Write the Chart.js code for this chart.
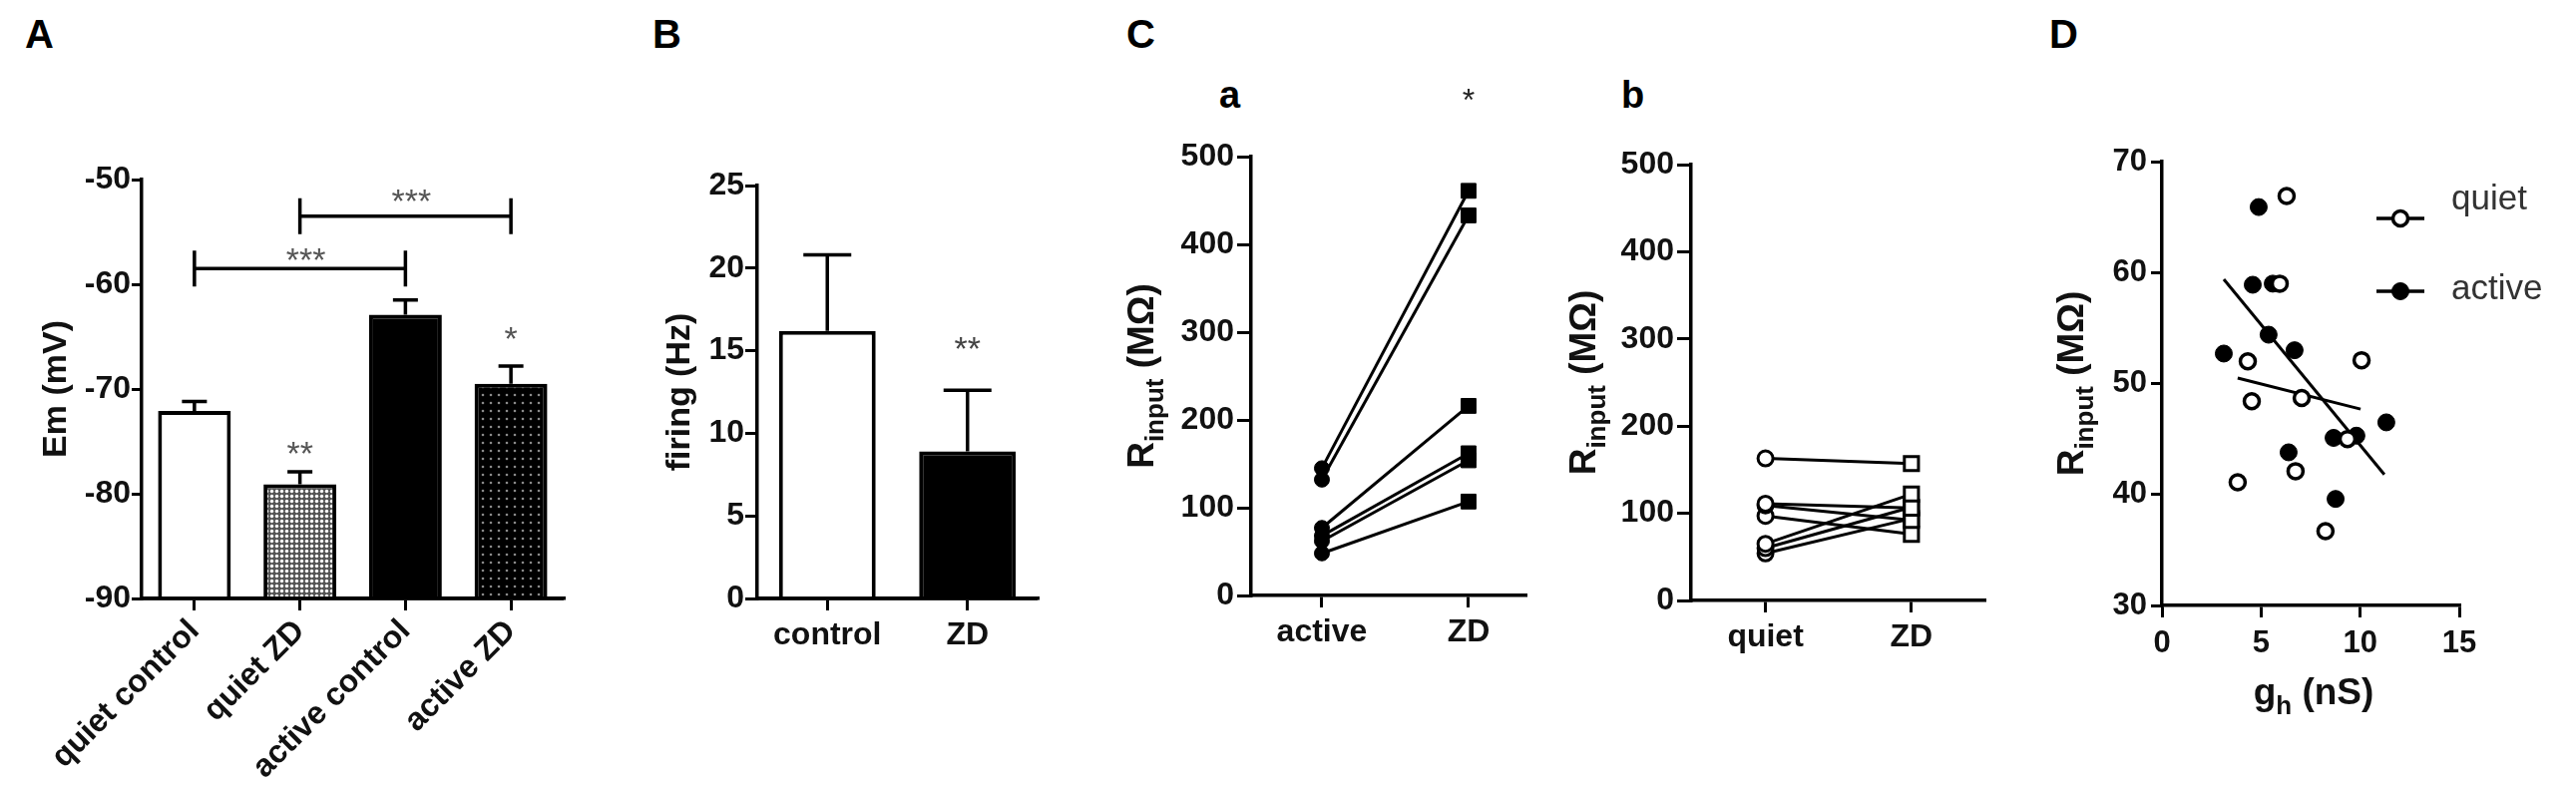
<!DOCTYPE html>
<html><head><meta charset="utf-8">
<script src="https://cdn.jsdelivr.net/npm/chart.js@4/dist/chart.umd.min.js"></script>
<style>
html,body{margin:0;padding:0;background:#fff;}
body{width:2582px;height:787px;position:relative;overflow:hidden;font-family:"Liberation Sans",Arial,sans-serif;}
.panel{position:absolute;top:0;height:787px;}
.lbl{position:absolute;font-weight:bold;color:#000;line-height:1;}
</style></head><body>
<div class="lbl" style="left:25px;top:14px;font-size:40px">A</div>
<div class="lbl" style="left:654px;top:14px;font-size:40px">B</div>
<div class="lbl" style="left:1129px;top:14px;font-size:40px">C</div>
<div class="lbl" style="left:2054px;top:14px;font-size:40px">D</div>
<div class="lbl" style="left:1222px;top:76px;font-size:38px">a</div>
<div class="lbl" style="left:1625px;top:76px;font-size:38px">b</div>
<div class="panel" style="left:0;width:600px"><canvas id="cA" width="600" height="787"></canvas></div>
<div class="panel" style="left:600px;width:480px"><canvas id="cB" width="480" height="787"></canvas></div>
<div class="panel" style="left:1080px;width:470px"><canvas id="cCa" width="470" height="787"></canvas></div>
<div class="panel" style="left:1550px;width:470px"><canvas id="cCb" width="470" height="787"></canvas></div>
<div class="panel" style="left:2020px;width:562px"><canvas id="cD" width="562" height="787"></canvas></div>
<script>
// ---------------- DATA ----------------
const categoriesA = ['quiet control', 'quiet ZD', 'active control', 'active ZD'];
const meanA = [-72.1, -79.1, -62.9, -69.5];
const semA = [0.9, 1.2, 1.4, 1.7];
const ticksA = [-90, -80, -70, -60, -50];
const titleA = 'Em (mV)';
const sigLabelsA = ['', '**', '', '*'];
const sigYA = [null, -75.4, null, -64.4];
const bracketFromA = [0, 1];
const bracketToA = [2, 3];
const bracketYA = [-58.5, -53.5];
const bracketLabelA = ['***', '***'];
const bracketLabelYA = [-56.9, -51.3];

const categoriesB = ['control', 'ZD'];
const meanB = [16.2, 8.9];
const semB = [4.6, 3.7];
const ticksB = [0, 5, 10, 15, 20, 25];
const titleB = 'firing (Hz)';
const sigLabelsB = ['', '**'];
const sigYB = [null, 15.6];

const categoriesCa = ['active', 'ZD'];
const activeCa = [145, 132, 77, 68, 62, 48];
const zdCa = [461, 433, 216, 162, 154, 107];
const sigLabelsCa = ['', '*'];
const sigYCa = [null, 573];
const categoriesCb = ['quiet', 'ZD'];
const quietCb = [163, 111, 109, 97, 65, 60, 54];
const zdCb = [157, 106, 92, 76, 122, 107, 94];
const ticksC = [0, 100, 200, 300, 400, 500];
const titleRParts = [['R', false], ['input', true], [' (M\u03A9)', false]];

const quietDX = [6.29, 5.94, 4.33, 10.07, 4.53, 7.05, 9.36, 6.74, 3.82, 8.25];
const quietDY = [66.9, 59.0, 52.0, 52.1, 48.4, 48.7, 45.0, 42.1, 41.1, 36.7];
const activeDX = [4.88, 4.58, 5.59, 5.38, 6.69, 3.12, 11.32, 8.66, 9.81, 6.39, 8.76];
const activeDY = [65.9, 58.9, 59.0, 54.4, 53.0, 52.7, 46.5, 45.1, 45.3, 43.8, 39.6];
const quietFitX = [3.82, 10.02];
const quietFitY = [50.5, 47.7];
const activeFitX = [3.12, 11.22];
const activeFitY = [59.4, 41.8];
const ticksDX = [0, 5, 10, 15];
const ticksDY = [30, 40, 50, 60, 70];
const titleDXParts = [['g', false], ['h', true], [' (nS)', false]];
const legendD = ['quiet', 'active'];

// ---------------- HELPERS ----------------
const FONT = '"Liberation Sans", Arial, sans-serif';
Chart.defaults.font.family = FONT;
Chart.defaults.color = '#111';
Chart.defaults.animation = false;
Chart.defaults.plugins.legend.display = false;
Chart.defaults.plugins.tooltip.enabled = false;

function makePattern(size, bg, dot, r) {
  const c = document.createElement('canvas');
  c.width = c.height = size;
  const g = c.getContext('2d');
  g.fillStyle = bg; g.fillRect(0, 0, size, size);
  g.fillStyle = dot; g.beginPath(); g.arc(size / 2, size / 2, r, 0, Math.PI * 2); g.fill();
  return document.getElementById('cA').getContext('2d').createPattern(c, 'repeat');
}
const patQuietZD = makePattern(5, '#555', '#fff', 1.7);
const patActiveZD = makePattern(8, '#000', '#8a8a8a', 1.3);

function yAxis(min, max, ticks, width, tickLen, pad, fs) {
  return {
    type: 'linear', position: 'left', min, max,
    afterBuildTicks: s => { s.ticks = ticks.map(v => ({ value: v })); },
    afterFit: s => { s.width = width; },
    border: { display: true, color: '#000', width: 3.5 },
    grid: { drawOnChartArea: false, drawTicks: true, tickLength: tickLen, color: '#000', lineWidth: 3 },
    ticks: { font: { size: fs || 32, weight: 'bold' }, color: '#111', padding: pad, callback: v => String(v) }
  };
}
function xCat(height, tickLen, pad, rot) {
  return {
    type: 'category', offset: true,
    afterFit: s => { s.height = height; },
    border: { display: true, color: '#000', width: 3.5 },
    grid: { offset: false, drawOnChartArea: false, drawTicks: true, tickLength: tickLen, color: '#000', lineWidth: 3 },
    ticks: { font: { size: 32, weight: 'bold' }, color: '#111', padding: pad, minRotation: rot, maxRotation: rot, autoSkip: false }
  };
}
function xLin(min, max, ticks, labels, height, tickLen, pad, fs) {
  return {
    type: 'linear', min, max,
    afterBuildTicks: s => { s.ticks = ticks.map(v => ({ value: v })); },
    afterFit: s => { s.height = height; },
    border: { display: true, color: '#000', width: 3.5 },
    grid: { drawOnChartArea: false, drawTicks: true, tickLength: tickLen, color: '#000', lineWidth: 3 },
    ticks: { font: { size: fs || 32, weight: 'bold' }, color: '#111', padding: pad, autoSkip: false,
      callback: v => labels ? labels[ticks.indexOf(v)] : String(v) }
  };
}
function drawStar(ctx, text, x, yc, size, color) {
  ctx.save();
  ctx.font = 'normal ' + size + 'px ' + FONT;
  ctx.fillStyle = color; ctx.textAlign = 'center'; ctx.textBaseline = 'alphabetic';
  ctx.fillText(text, x, yc + 0.575 * size);
  ctx.restore();
}
function drawParts(ctx, parts, size, subSize) {
  let total = 0;
  parts.forEach(p => { ctx.font = 'bold ' + (p[1] ? subSize : size) + 'px ' + FONT; total += ctx.measureText(p[0]).width; });
  let x = -total / 2;
  ctx.textAlign = 'left'; ctx.textBaseline = 'alphabetic';
  parts.forEach(p => {
    ctx.font = 'bold ' + (p[1] ? subSize : size) + 'px ' + FONT;
    ctx.fillText(p[0], x, p[1] ? 0.36 * size + 0.26 * size : 0.36 * size);
    x += ctx.measureText(p[0]).width;
  });
}
function rotTitle(ctx, parts, cx, cy, size, subSize) {
  ctx.save(); ctx.translate(cx, cy); ctx.rotate(-Math.PI / 2); ctx.fillStyle = '#111';
  drawParts(ctx, parts, size, subSize); ctx.restore();
}
function horTitle(ctx, parts, cx, cy, size, subSize) {
  ctx.save(); ctx.translate(cx, cy); ctx.fillStyle = '#111';
  drawParts(ctx, parts, size, subSize); ctx.restore();
}
function errorBars(chart, mean, sem, cap) {
  const ctx = chart.ctx, ys = chart.scales.y, meta = chart.getDatasetMeta(0);
  ctx.save(); ctx.strokeStyle = '#000'; ctx.lineWidth = 3.5; ctx.lineCap = 'butt';
  meta.data.forEach((bar, i) => {
    const y0 = ys.getPixelForValue(mean[i]), y1 = ys.getPixelForValue(mean[i] + sem[i]);
    ctx.beginPath(); ctx.moveTo(bar.x, y0); ctx.lineTo(bar.x, y1);
    ctx.moveTo(bar.x - cap / 2, y1); ctx.lineTo(bar.x + cap / 2, y1); ctx.stroke();
  });
  ctx.restore();
}
function baseLine(chart) {
  const ctx = chart.ctx, ca = chart.chartArea;
  ctx.save(); ctx.strokeStyle = '#000'; ctx.lineWidth = 3.5;
  ctx.beginPath(); ctx.moveTo(ca.left - 1.75, ca.bottom); ctx.lineTo(ca.right, ca.bottom); ctx.stroke();
  ctx.restore();
}

// ---------------- PANEL A ----------------
new Chart(document.getElementById('cA'), {
  type: 'bar',
  data: { labels: categoriesA, datasets: [{
    data: meanA, base: -90, clip: false,
    backgroundColor: ['#fff', patQuietZD, '#000', patActiveZD],
    borderColor: '#000', borderWidth: 4, borderSkipped: 'start',
    barPercentage: 0.69, categoryPercentage: 1
  }]},
  options: {
    responsive: false, devicePixelRatio: 1,
    layout: { padding: { top: 180, right: 35, left: 0, bottom: 0 } },
    scales: { x: xCat(187, 12, 2, 45), y: yAxis(-90, -50, ticksA, 142, 10, 1) }
  },
  plugins: [{ id: 'extrasA', afterDraw(chart) {
    const ctx = chart.ctx, ys = chart.scales.y, meta = chart.getDatasetMeta(0);
    baseLine(chart);
    errorBars(chart, meanA, semA, 25);
    ctx.save(); ctx.strokeStyle = '#000'; ctx.lineWidth = 3.5;
    bracketYA.forEach((v, k) => {
      const x0 = meta.data[bracketFromA[k]].x, x1 = meta.data[bracketToA[k]].x, y = ys.getPixelForValue(v);
      ctx.beginPath(); ctx.moveTo(x0, y); ctx.lineTo(x1, y);
      ctx.moveTo(x0, y - 18); ctx.lineTo(x0, y + 18); ctx.moveTo(x1, y - 18); ctx.lineTo(x1, y + 18); ctx.stroke();
      drawStar(ctx, bracketLabelA[k], (x0 + x1) / 2 + 6, ys.getPixelForValue(bracketLabelYA[k]), 34, '#555');
    });
    ctx.restore();
    sigLabelsA.forEach((t, i) => { if (t) drawStar(ctx, t, meta.data[i].x, ys.getPixelForValue(sigYA[i]), 34, '#555'); });
    const ca = chart.chartArea;
    rotTitle(ctx, [[titleA, false]], 54, (ca.top + ca.bottom) / 2, 34, 24);
  }}]
});

// ---------------- PANEL B ----------------
new Chart(document.getElementById('cB'), {
  type: 'bar',
  data: { labels: categoriesB, datasets: [{
    data: meanB, clip: false,
    backgroundColor: ['#fff', '#000'],
    borderColor: '#000', borderWidth: 4, borderSkipped: 'start',
    barPercentage: 0.69, categoryPercentage: 1
  }]},
  options: {
    responsive: false, devicePixelRatio: 1,
    layout: { padding: { top: 186, right: 40, left: 0, bottom: 0 } },
    scales: { x: xCat(187, 12, 6, 0), y: yAxis(0, 25, ticksB, 159, 12, 1) }
  },
  plugins: [{ id: 'extrasB', afterDraw(chart) {
    const ctx = chart.ctx, ys = chart.scales.y, meta = chart.getDatasetMeta(0);
    baseLine(chart);
    errorBars(chart, meanB, semB, 48);
    sigLabelsB.forEach((t, i) => { if (t) drawStar(ctx, t, meta.data[i].x, ys.getPixelForValue(sigYB[i]), 34, '#444'); });
    const ca = chart.chartArea;
    rotTitle(ctx, [[titleB, false]], 79, (ca.top + ca.bottom) / 2, 34, 24);
  }}]
});

// ---------------- PANEL C ----------------
function pairChart(id, left, right, ys, labels, xmin, xmax, pad, xH, fillColor, borderW, rCircle, rRect, titleX, sig, sigY) {
  new Chart(document.getElementById(id), {
    type: 'line',
    data: { datasets: left.map((a, i) => ({
      data: [{ x: 0, y: a }, { x: 1, y: right[i] }],
      borderColor: '#000', borderWidth: 3,
      pointStyle: ['circle', 'rect'], pointRadius: [rCircle, rRect],
      pointBackgroundColor: fillColor, pointBorderColor: '#000', pointBorderWidth: borderW
    }))},
    options: {
      responsive: false, devicePixelRatio: 1,
      layout: { padding: pad },
      scales: { x: xLin(xmin, xmax, [0, 1], labels, xH, 12, 6), y: yAxis(0, 500, ys, pad.yw, 14, 3) }
    },
    plugins: [{ id: 'extras' + id, afterDraw(chart) {
      const ctx = chart.ctx, ca = chart.chartArea;
      rotTitle(ctx, titleRParts, titleX, (ca.top + ca.bottom) / 2, 37, 26);
      if (sig) sig.forEach((t, i) => { if (t) drawStar(ctx, t, chart.scales.x.getPixelForValue(i), chart.scales.y.getPixelForValue(sigY[i]), 32, '#222'); });
    }}]
  });
}
pairChart('cCa', activeCa, zdCa, ticksC, categoriesCa, -0.483, 1.388,
  { top: 157, right: 21, left: 0, bottom: 0, yw: 174 }, 190, '#000', 1, 7.5, 10.5, 63, sigLabelsCa, sigYCa);
pairChart('cCb', quietCb, zdCb, ticksC, categoriesCb, -0.51, 1.50,
  { top: 165, right: 31, left: 0, bottom: 0, yw: 145 }, 185, '#fff', 3, 7.5, 10, 36, null, null);

// ---------------- PANEL D ----------------
new Chart(document.getElementById('cD'), {
  type: 'scatter',
  data: { datasets: [
    { data: quietDX.map((x, i) => ({ x, y: quietDY[i] })), order: 0,
      pointRadius: 7.5, pointBackgroundColor: '#fff', pointBorderColor: '#000', pointBorderWidth: 3.5 },
    { data: activeDX.map((x, i) => ({ x, y: activeDY[i] })), order: 1,
      pointRadius: 8.5, pointBackgroundColor: '#000', pointBorderColor: '#000', pointBorderWidth: 1 },
    { data: quietFitX.map((x, i) => ({ x, y: quietFitY[i] })), order: 2, showLine: true,
      pointRadius: 0, borderColor: '#000', borderWidth: 3 },
    { data: activeFitX.map((x, i) => ({ x, y: activeFitY[i] })), order: 2, showLine: true,
      pointRadius: 0, borderColor: '#000', borderWidth: 3 }
  ]},
  options: {
    responsive: false, devicePixelRatio: 1,
    layout: { padding: { top: 162, right: 117, left: 0, bottom: 0 } },
    scales: { x: xLin(0, 15, ticksDX, null, 180, 12, 8, 31), y: yAxis(30, 70, ticksDY, 147, 11, 4, 31) }
  },
  plugins: [{ id: 'extrasD', afterDraw(chart) {
    const ctx = chart.ctx, ca = chart.chartArea;
    rotTitle(ctx, titleRParts, 55, (ca.top + ca.bottom) / 2, 37, 26);
    horTitle(ctx, titleDXParts, (ca.left + ca.right) / 2 + 3, 693, 37, 26);
    const ly = [219, 292], ty = [210, 300];
    legendD.forEach((t, k) => {
      ctx.save();
      ctx.strokeStyle = '#000'; ctx.lineWidth = 3.5;
      ctx.beginPath(); ctx.moveTo(362, ly[k]); ctx.lineTo(410, ly[k]); ctx.stroke();
      ctx.beginPath(); ctx.arc(386, ly[k], k === 0 ? 7.5 : 8.5, 0, Math.PI * 2);
      ctx.fillStyle = k === 0 ? '#fff' : '#000'; ctx.fill(); ctx.lineWidth = k === 0 ? 3.5 : 1; ctx.stroke();
      ctx.font = 'normal 35px ' + FONT; ctx.fillStyle = '#333'; ctx.textAlign = 'left'; ctx.textBaseline = 'alphabetic';
      ctx.fillText(t, 437, ty[k]);
      ctx.restore();
    });
  }}]
});
</script>
</body></html>
